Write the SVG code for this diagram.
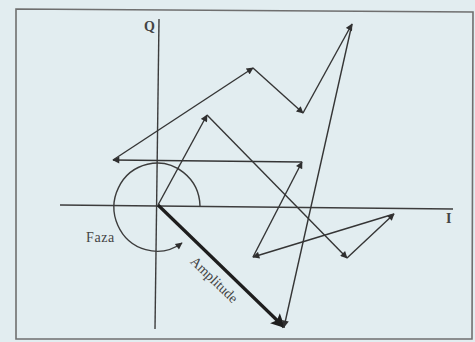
<svg xmlns="http://www.w3.org/2000/svg" width="475" height="342" viewBox="0 0 475 342">
<defs>
<style>
.ax{stroke:#3c3c3c;stroke-width:1.4;fill:none}
.v{stroke:#353535;stroke-width:1.4;fill:none;marker-end:url(#ah)}
.lbl{font-family:"Liberation Serif",serif;fill:#444}
</style>
<marker id="ah" viewBox="0 0 10 10" refX="9" refY="5" markerWidth="9" markerHeight="7" markerUnits="userSpaceOnUse" orient="auto">
<path d="M0,0 L10,5 L0,10 Z" fill="#2f2f2f"/>
</marker>
<marker id="ahBig" viewBox="0 0 10 10" refX="9" refY="5" markerWidth="20" markerHeight="14" markerUnits="userSpaceOnUse" orient="auto">
<path d="M0,0 L10,5 L0,10 L2,5 Z" fill="#1e1e1e"/>
</marker>
</defs>
<rect x="0" y="0" width="475" height="342" fill="#e2edf0"/>
<path d="M16,9 L473,12 L472,339 L16,339 Z" fill="none" stroke="#6f6f6f" stroke-width="1.6"/>
<g id="axes">
<line class="ax" x1="159" y1="19" x2="155" y2="329"/>
<line class="ax" x1="60" y1="205" x2="453" y2="209"/>
<text class="lbl" x="144" y="31" font-size="14" font-weight="bold">Q</text>
<text class="lbl" x="446" y="223" font-size="14" font-weight="bold">I</text>
</g>
<g id="phase">
<path d="M200,206 A43,44 0 1 0 182,243" fill="none" stroke="#3c3c3c" stroke-width="1.4" marker-end="url(#ah)"/>
<text class="lbl" x="86" y="242" font-size="14" letter-spacing="0.6">Faza</text>
</g>
<g id="amplitude">
<line x1="158" y1="205" x2="284" y2="327" stroke="#1e1e1e" stroke-width="3.2" marker-end="url(#ahBig)"/>
<text class="lbl" font-size="14" text-anchor="middle" transform="translate(211,283) rotate(44)">Amplitude</text>
</g>
<g id="connectors">
<line class="v" x1="158" y1="205" x2="207" y2="115"/>
<line class="v" x1="207" y1="115" x2="347" y2="258"/>
<line class="v" x1="347" y1="258" x2="394" y2="214"/>
<line class="v" x1="394" y1="214" x2="253" y2="257"/>
<line class="v" x1="253" y1="257" x2="302" y2="162"/>
<line class="v" x1="302" y1="162" x2="113" y2="160"/>
<line class="v" x1="113" y1="160" x2="253" y2="68"/>
<line class="v" x1="253" y1="68" x2="303" y2="113"/>
<line class="v" x1="303" y1="113" x2="352" y2="24"/>
<line class="v" x1="352" y1="24" x2="284" y2="327"/>
</g>
</svg>
